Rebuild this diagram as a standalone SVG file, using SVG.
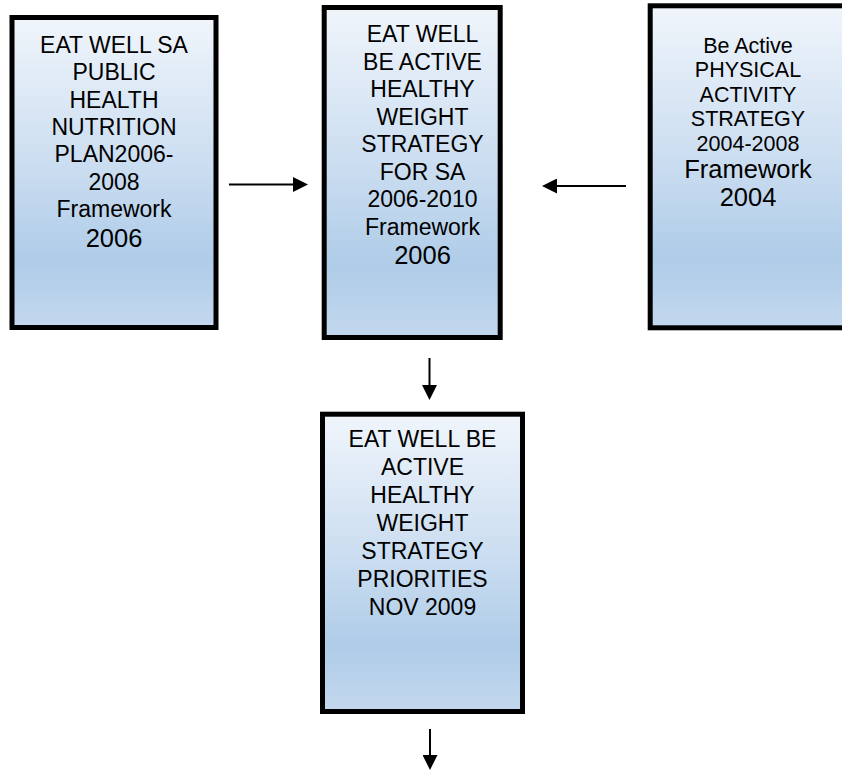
<svg xmlns="http://www.w3.org/2000/svg" width="842" height="771" viewBox="0 0 842 771">
<style>
.box{stroke:#000;stroke-width:5;fill:url(#g)}
text{font-family:"Liberation Sans",Arial,sans-serif;fill:#000;text-anchor:middle}
.t{font-size:23px}
.b{font-size:25.5px}
.s{font-size:21.5px}
.c{stroke:#000;stroke-width:2;fill:none;marker-end:url(#ah)}
</style>
<defs>
<linearGradient id="g" x1="0" y1="0" x2="0" y2="1">
<stop offset="0" stop-color="#f0f5fb"/>
<stop offset="0.5" stop-color="#c9dcf0"/>
<stop offset="0.78" stop-color="#afcce8"/>
<stop offset="1" stop-color="#c3d8ee"/>
</linearGradient>
<marker id="ah" viewBox="0 0 15 15" refX="1" refY="7.5" markerWidth="15" markerHeight="15" markerUnits="userSpaceOnUse" orient="auto">
<path d="M0,0 L15,7.5 L0,15 z" fill="#000"/>
</marker>
</defs>
<rect width="842" height="771" fill="#fff"/>
<g id="node-eatwell-sa">
<rect class="box" x="12" y="17.5" width="204" height="310"/>
<text class="t"><tspan x="114" y="53">EAT WELL SA</tspan><tspan x="114" y="80.3">PUBLIC</tspan><tspan x="114" y="107.6">HEALTH</tspan><tspan x="114" y="134.9">NUTRITION</tspan><tspan x="114" y="162.2">PLAN2006-</tspan><tspan x="114" y="189.5">2008</tspan><tspan x="114" y="216.8">Framework</tspan></text>
<text class="b" x="114" y="246.5">2006</text>
</g>
<g id="node-healthy-weight-strategy">
<rect class="box" x="324.2" y="7.5" width="176" height="330"/>
<text class="t"><tspan x="422.5" y="42">EAT WELL</tspan><tspan x="422.5" y="69.6">BE ACTIVE</tspan><tspan x="422.5" y="97.2">HEALTHY</tspan><tspan x="422.5" y="124.8">WEIGHT</tspan><tspan x="422.5" y="152.4">STRATEGY</tspan><tspan x="422.5" y="180">FOR SA</tspan><tspan x="422.5" y="207">2006-2010</tspan><tspan x="422.5" y="235">Framework</tspan></text>
<text class="b" x="422.5" y="263.5">2006</text>
</g>
<g id="node-be-active">
<rect class="box" x="650.2" y="5.8" width="200" height="322"/>
<text class="s"><tspan x="748" y="52.5">Be Active</tspan><tspan x="748" y="77">PHYSICAL</tspan><tspan x="748" y="101.5">ACTIVITY</tspan><tspan x="748" y="126">STRATEGY</tspan><tspan x="748" y="151">2004-2008</tspan></text>
<text class="b"><tspan x="748" y="177.5">Framework</tspan><tspan x="748" y="205.5">2004</tspan></text>
</g>
<g id="node-priorities">
<rect class="box" x="322.5" y="414.2" width="200" height="297.3"/>
<text class="t"><tspan x="422.5" y="447.3">EAT WELL BE</tspan><tspan x="422.5" y="475.3">ACTIVE</tspan><tspan x="422.5" y="503.3">HEALTHY</tspan><tspan x="422.5" y="531.3">WEIGHT</tspan><tspan x="422.5" y="559.3">STRATEGY</tspan><tspan x="422.5" y="587.3">PRIORITIES</tspan><tspan x="422.5" y="615.3">NOV 2009</tspan></text>
</g>
<g id="connectors">
<line class="c" x1="229" y1="184.5" x2="294" y2="184.5"/>
<line class="c" x1="626" y1="186" x2="556" y2="186"/>
<line class="c" x1="429.5" y1="358" x2="429.5" y2="386"/>
<line class="c" x1="430" y1="729" x2="430" y2="756"/>
</g>
</svg>
